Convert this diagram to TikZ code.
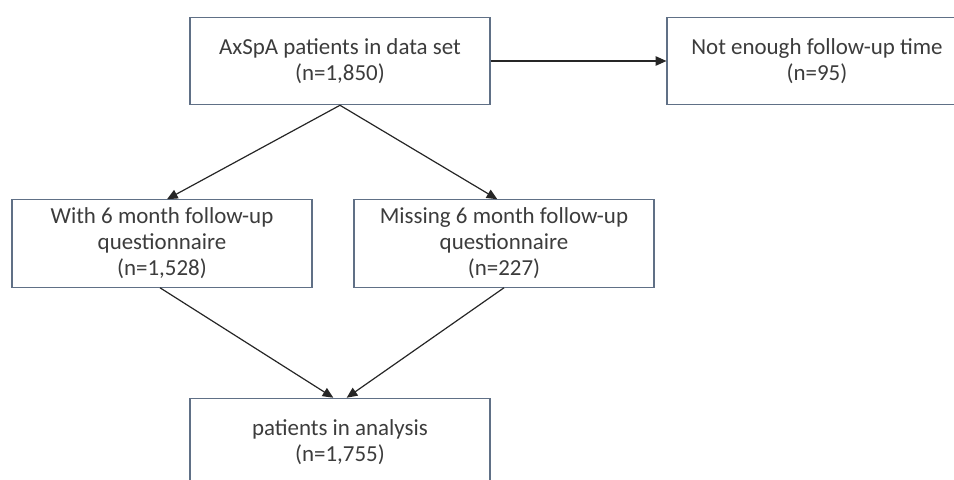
\documentclass[tikz,border=0pt]{standalone}
\usepackage{fontspec}
\setmainfont{Carlito}
\usetikzlibrary{arrows.meta}
\definecolor{boxline}{RGB}{96,112,134}
\definecolor{boxtext}{RGB}{60,60,60}
\tikzset{
  flowbox/.style={draw=boxline, line width=0.9pt, fill=white, align=center,
    minimum width=225pt, minimum height=65.5pt, inner sep=2pt,
    text=boxtext, font=\fontsize{17.2}{19.5}\selectfont},
  flowarrow/.style={-{Triangle[length=8pt,width=7pt]}, line width=0.9pt, draw=black!85}
}
\begin{document}
\begin{tikzpicture}[x=0.75pt, y=-0.75pt]
        \useasboundingbox (0, 0) rectangle (954, 479);
        \clip (0, 0) rectangle (954, 479);
        \node [flowbox] (all) at (340, 61) {AxSpA patients in data set\\(n=1,850)};
        \node [flowbox] (short) at (817, 61) {Not enough follow-up time\\(n=95)};
        \node [flowbox] (with) at (162, 243.5) {With 6 month follow-up\\questionnaire\\(n=1,528)};
        \node [flowbox] (missing) at (504, 243.5) {Missing 6 month follow-up\\questionnaire\\(n=227)};
        \node [flowbox] (analysis) at (340, 442) {patients in analysis\\(n=1,755)};
        \draw [flowarrow] (all) -- (short);
        \draw [flowarrow] (all.south) -- ([xshift=3.75pt]with.north);
        \draw [flowarrow] (all.south) -- ([xshift=-5pt]missing.north);
        \draw [flowarrow] ([xshift=-1.5pt]with.south) -- ([xshift=-5pt]analysis.north);
        \draw [flowarrow] (missing.south) -- ([xshift=5pt]analysis.north);
\end{tikzpicture}
\end{document}
